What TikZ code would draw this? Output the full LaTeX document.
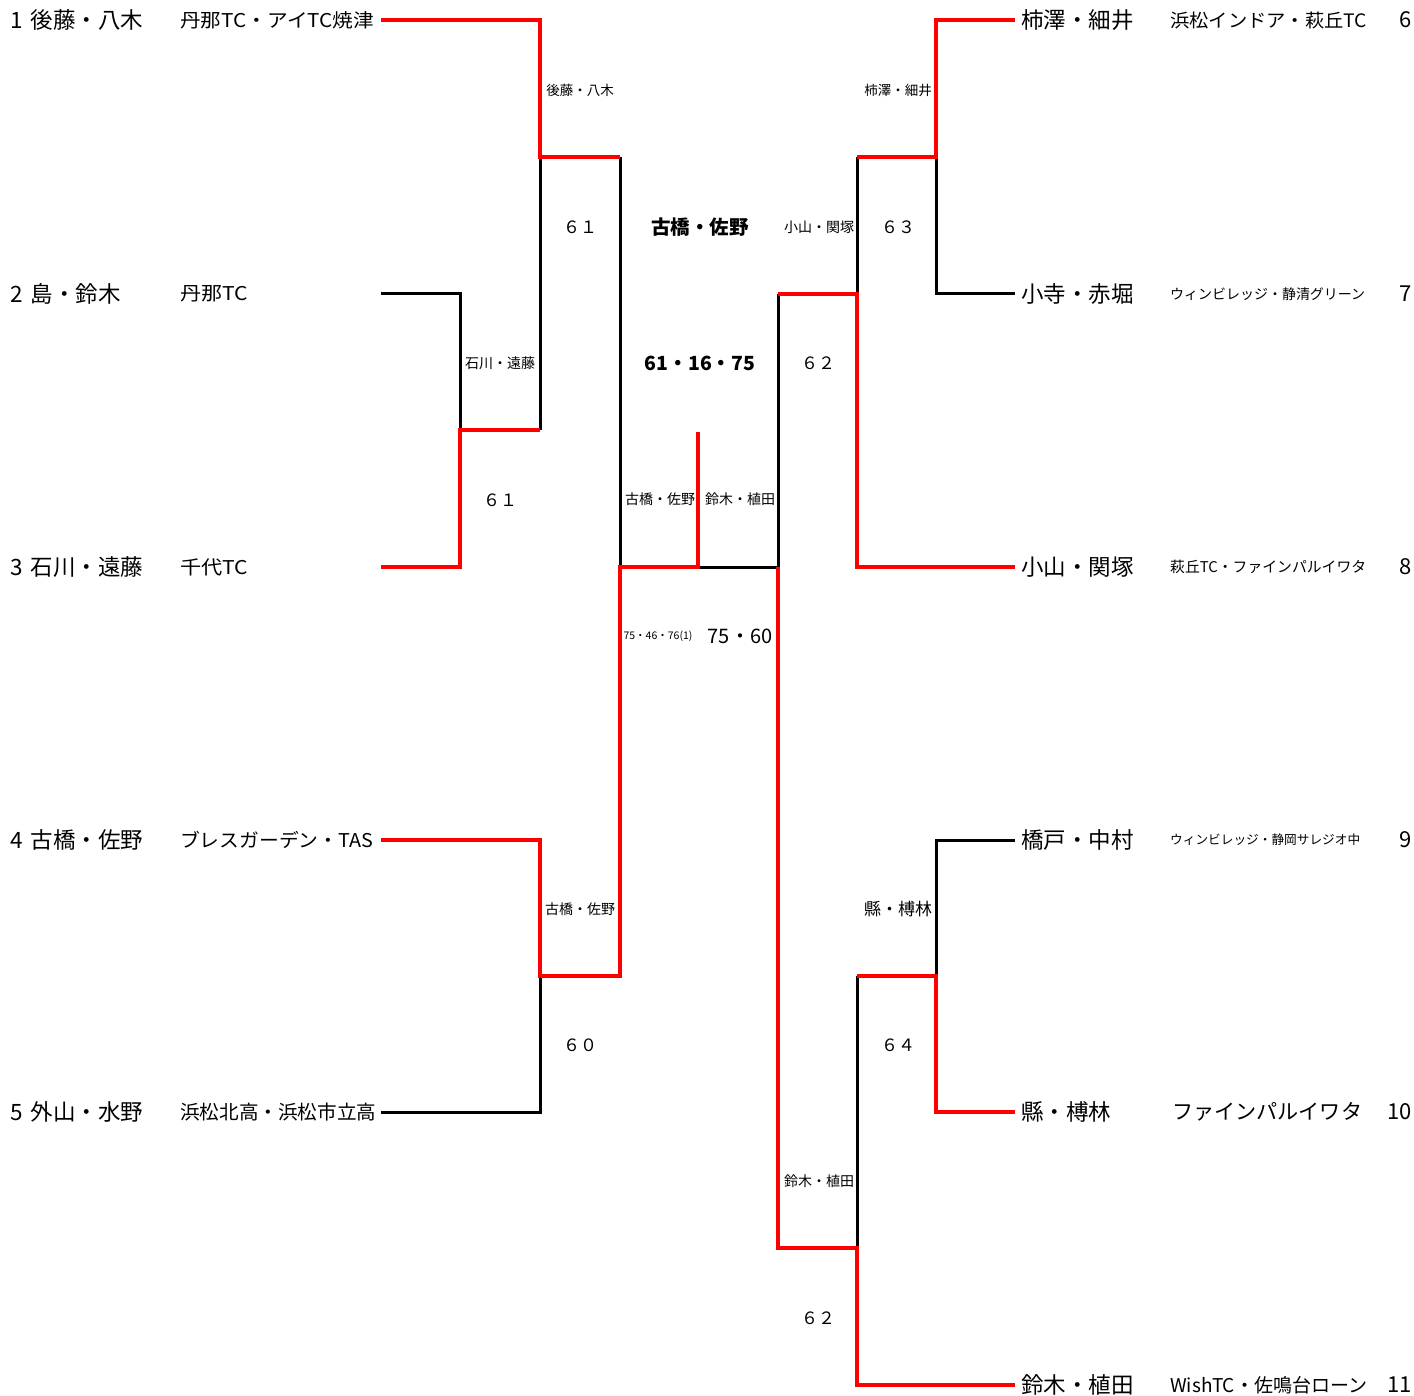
\documentclass[tikz,border=0pt]{standalone}
\usepackage{fontspec}
\usepackage{graphicx}
\setmainfont{Noto Sans CJK JP}
\tikzset{
 win/.style={draw=red, line width=4pt},
 lose/.style={draw=black, line width=3pt},
 pname/.style={anchor=west, inner sep=0pt, font=\fontsize{22.5}{26}\selectfont},
 club/.style={anchor=west, inner sep=0pt},
 seed/.style={anchor=east, inner sep=0pt, font=\fontsize{22}{26}\selectfont},
 lbl/.style={inner sep=0pt, font=\fontsize{14}{16}\selectfont},
 score/.style={inner sep=0pt, font=\fontsize{17}{20}\selectfont},
 big/.style={inner sep=0pt, font=\fontsize{19.5}{24}\selectfont\bfseries},
}
\newcommand{\fsz}[1]{\fontsize{#1}{#1}\selectfont}
\newcommand{\hfit}[2]{\resizebox{#1}{\height}{#2}}
\begin{document}
\begin{tikzpicture}[x=1pt,y=-1pt]
\useasboundingbox (0,0) rectangle (1414,1396);
% left entries
\node[pname] (n1) at (10,20) {1\hspace{8pt}後藤・八木};
\node[pname] (n2) at (10,294) {2\hspace{8pt}島・鈴木};
\node[pname] (n3) at (10,567) {3\hspace{8pt}石川・遠藤};
\node[pname] (n4) at (10,840) {4\hspace{8pt}古橋・佐野};
\node[pname] (n5) at (10,1112) {5\hspace{8pt}外山・水野};
\node[club,font=\fsz{19}] (c1) at (180,20) {\hfit{194pt}{丹那TC・アイTC焼津}};
\node[club,font=\fsz{19}] (c2) at (180,294) {\hfit{68pt}{丹那TC}};
\node[club,font=\fsz{19}] (c3) at (180,567) {\hfit{68pt}{千代TC}};
\node[club,font=\fsz{19}] (c4) at (180,840) {\hfit{193pt}{ブレスガーデン・TAS}};
\node[club,font=\fsz{19.5}] (c5) at (180,1112) {\hfit{196pt}{浜松北高・浜松市立高}};
% right entries
\node[pname] (n6) at (1021,20) {柿澤・細井};
\node[pname] (n7) at (1021,294) {小寺・赤堀};
\node[pname] (n8) at (1021,567) {小山・関塚};
\node[pname] (n9) at (1021,840) {橋戸・中村};
\node[pname] (n10) at (1021,1112) {縣・榑林};
\node[pname] (n11) at (1021,1385) {鈴木・植田};
\node[club,font=\fsz{18.5}] (c6) at (1170,20) {\hfit{197pt}{浜松インドア・萩丘TC}};
\node[club,font=\fsz{14}] (c7) at (1170,294) {\hfit{195pt}{ウィンビレッジ・静清グリーン}};
\node[club,font=\fsz{14.8}] (c8) at (1170,567) {\hfit{196pt}{萩丘TC・ファインパルイワタ}};
\node[club,font=\fsz{12.7}] (c9) at (1170,840) {\hfit{190pt}{ウィンビレッジ・静岡サレジオ中}};
\node[club,font=\fsz{21}] (c10) at (1172,1112) {\hfit{190pt}{ファインパルイワタ}};
\node[club,font=\fsz{19}] (c11) at (1170,1385) {\hfit{197pt}{WishTC・佐鳴台ローン}};
\node[seed] (s6) at (1412,20) {6};
\node[seed] (s7) at (1412,294) {7};
\node[seed] (s8) at (1412,567) {8};
\node[seed] (s9) at (1412,840) {9};
\node[seed] (s10) at (1412,1112) {10};
\node[seed] (s11) at (1412,1385) {11};
% bracket coordinates
\coordinate (L1) at (381,20);
\coordinate (L2) at (381,294);
\coordinate (L3) at (381,567);
\coordinate (L4) at (381,840);
\coordinate (L5) at (381,1112);
\coordinate (a1) at (540,20);
\coordinate (a2) at (540,157);
\coordinate (a3) at (620,157);
\coordinate (b1) at (460,294);
\coordinate (b2) at (460,430);
\coordinate (b3) at (460,567);
\coordinate (b4) at (540,430);
\coordinate (cc1) at (620,567);
\coordinate (cc2) at (698,567);
\coordinate (cc3) at (698,432);
\coordinate (cc4) at (778,567);
\coordinate (d1) at (540,840);
\coordinate (d2) at (540,976);
\coordinate (d3) at (620,976);
\coordinate (d4) at (540,1112);
\coordinate (e1) at (778,294);
\coordinate (e2) at (857,294);
\coordinate (e3) at (857,567);
\coordinate (e4) at (857,157);
\coordinate (R6) at (1015,20);
\coordinate (R7) at (1015,294);
\coordinate (R8) at (1015,567);
\coordinate (R9) at (1015,840);
\coordinate (R10) at (1015,1112);
\coordinate (R11) at (1015,1385);
\coordinate (f1) at (936,20);
\coordinate (f2) at (936,157);
\coordinate (f3) at (936,294);
\coordinate (g1) at (778,1248);
\coordinate (g2) at (857,1248);
\coordinate (g3) at (857,1385);
\coordinate (h1) at (857,976);
\coordinate (h2) at (936,1112);
\coordinate (h3) at (936,976);
\coordinate (h4) at (936,840);
% losing lines
\draw[lose] (L2) -- (b1) -- (b2);
\draw[lose] (a2) -- (b4);
\draw[lose] (a3) -- (cc1);
\draw[lose] (L5) -- (d4) -- (d2);
\draw[lose] (cc2) -- (cc4) -- (e1);
\draw[lose] (e2) -- (e4);
\draw[lose] (R7) -- (f3) -- (f2);
\draw[lose] (g2) -- (h1);
\draw[lose] (R9) -- (h4) -- (h3);
% winning lines
\draw[win] (L1) -- (a1) -- (a2) -- (a3);
\draw[win] (L3) -- (b3) -- (b2) -- (b4);
\draw[win] (L4) -- (d1) -- (d2) -- (d3) -- (cc1) -- (cc2) -- (cc3);
\draw[win] (e1) -- (e2) -- (e3) -- (R8);
\draw[win] (R6) -- (f1) -- (f2) -- (e4);
\draw[win] (cc4) -- (g1) -- (g2) -- (g3) -- (R11);
\draw[win] (R10) -- (h2) -- (h3) -- (h1);
% match labels
\node[lbl,font=\fsz{13.5}] (m1) at (580,90) {後藤・八木};
\node[score] (m1s) at (580,227) {６１};
\node[lbl] (m2) at (500,363) {石川・遠藤};
\node[score] (m2s) at (500,500) {６１};
\node[lbl] (m3) at (580,909) {古橋・佐野};
\node[score] (m3s) at (580,1045) {６０};
\node[big] (champ) at (700,227) {古橋・佐野};
\node[big] (champs) at (700,363) {61・16・75};
\node[lbl] (sf1) at (660,499) {古橋・佐野};
\node[lbl] (sf2) at (740,499) {鈴木・植田};
\node[inner sep=0pt,font=\fsz{10.5}] (sf1s) at (658,636) {75・46・76(1)};
\node[inner sep=0pt,font=\fsz{20}] (sf2s) at (740,636) {75・60};
\node[lbl] (m4) at (819,227) {小山・関塚};
\node[score] (m4s) at (818,363) {６２};
\node[lbl,font=\fsz{13.5}] (m5) at (898,90) {柿澤・細井};
\node[score] (m5s) at (898,227) {６３};
\node[lbl,font=\fsz{17}] (m6) at (898,909) {縣・榑林};
\node[score] (m6s) at (898,1045) {６４};
\node[lbl] (m7) at (819,1181) {鈴木・植田};
\node[score] (m7s) at (818,1318) {６２};
\end{tikzpicture}
\end{document}
